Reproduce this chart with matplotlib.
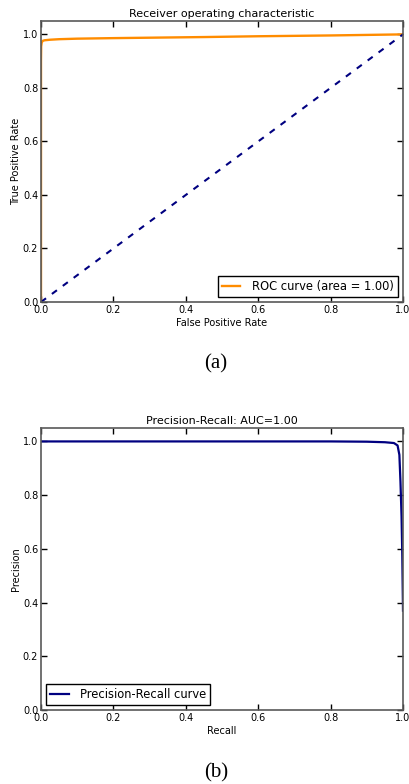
import matplotlib
matplotlib.use("Agg")
import matplotlib.pyplot as plt

# ROC curve
fpr = [0.0, 0.0, 0.0005, 0.002, 0.005, 0.01, 0.025, 0.05, 0.1, 0.2, 0.45, 0.6, 0.8, 1.0]
tpr = [0.0, 0.90, 0.955, 0.970, 0.976, 0.978, 0.980, 0.982, 0.984, 0.986, 0.990, 0.993, 0.996, 1.0]
chance = [0.0, 1.0]
roc_auc = 1.00

# Precision-Recall curve
recall = [0.0, 0.2, 0.4, 0.6, 0.8, 0.9, 0.95, 0.975, 0.985, 0.99, 0.993, 0.996, 0.998, 1.0]
precision = [1.0, 1.0, 1.0, 1.0, 1.0, 0.999, 0.997, 0.994, 0.985, 0.95, 0.85, 0.72, 0.58, 0.37]
pr_auc = 1.00

ticks = [0.0, 0.2, 0.4, 0.6, 0.8, 1.0]


def style_axes(ax):
	ax.set_xlim(0.0, 1.0)
	ax.set_ylim(0.0, 1.05)
	ax.set_xticks(ticks)
	ax.set_yticks(ticks)
	ax.tick_params(direction="in", top=True, right=True, length=4, width=1,
		labelsize=7, pad=2, color="black")
	for s in ax.spines.values():
		s.set_color("0.35")
		s.set_linewidth(1.2)


def main():
	fig = plt.figure(figsize=(4.09, 7.84), dpi=100)

	#top panel: ROC
	ax1 = fig.add_axes([41/409, 482/784, 362/409, 281/784])
	ax1.plot(fpr, tpr, color="darkorange", lw=1.7, label="ROC curve (area = %0.2f)" % roc_auc)
	ax1.plot(chance, chance, color="navy", lw=1.5, linestyle="--", dashes=(3, 3.5))
	style_axes(ax1)
	ax1.set_title("Receiver operating characteristic", fontsize=8, pad=3)
	ax1.set_xlabel("False Positive Rate", fontsize=7, labelpad=2)
	ax1.set_ylabel("True Positive Rate", fontsize=7, labelpad=1)
	ax1.legend(loc="lower right", fontsize=8.3, fancybox=False, edgecolor="black",
		framealpha=1, borderpad=0.35, handlelength=1.6, handletextpad=1.0, borderaxespad=0.45)
	fig.text(216/409, 1 - 364/784, "(a)", family="Liberation Serif", fontsize=15,
		ha="center", va="center")

	#bottom panel: Precision-Recall
	ax2 = fig.add_axes([41/409, 74/784, 362/409, 282/784])
	ax2.plot(recall, precision, color="navy", lw=1.6, label="Precision-Recall curve")
	style_axes(ax2)
	ax2.set_title("Precision-Recall: AUC=%0.2f" % pr_auc, fontsize=8, pad=3)
	ax2.set_xlabel("Recall", fontsize=7, labelpad=2)
	ax2.set_ylabel("Precision", fontsize=7, labelpad=1)
	ax2.legend(loc="lower left", fontsize=8.3, fancybox=False, edgecolor="black",
		framealpha=1, borderpad=0.35, handlelength=1.6, handletextpad=1.0, borderaxespad=0.45)
	fig.text(216/409, 1 - 773/784, "(b)", family="Liberation Serif", fontsize=15,
		ha="center", va="center")

	fig.savefig("out.png", dpi=100)


if __name__ == "__main__":
	main()
